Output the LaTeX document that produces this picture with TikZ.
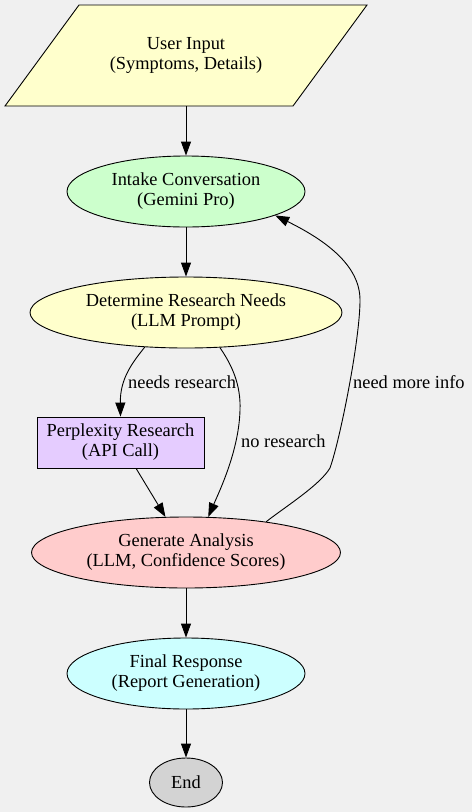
\documentclass[tikz,border=0pt]{standalone}
\usepackage{fontspec}
\setmainfont{Liberation Serif}
\usetikzlibrary{shapes.geometric,arrows.meta}
\definecolor{bgc}{HTML}{F0F0F0}
\definecolor{ylw}{HTML}{FFFFCC}
\definecolor{grn}{HTML}{CCFFCC}
\definecolor{lav}{HTML}{E5CCFF}
\definecolor{pnk}{HTML}{FFCCCC}
\definecolor{cyn}{HTML}{CCFFFF}
\definecolor{gry}{HTML}{D3D3D3}
\begin{document}
\begin{tikzpicture}[x=1pt,y=-1pt,
  every node/.style={font=\fontsize{18.4}{20}\selectfont, align=center, inner sep=0pt},
  ell/.style={ellipse, draw, line width=0.9pt},
  boxstyle/.style={rectangle, draw, line width=0.9pt},
  conn/.style={line width=0.9pt, -{Triangle[length=14pt,width=10pt]}},
  lbl/.style={anchor=west}]
\fill[bgc] (0,0) rectangle (472,812);
\useasboundingbox (0,0) rectangle (472,812);
% input parallelogram
\filldraw[fill=ylw, line width=0.9pt] (79,5) -- (367,5) -- (293,106) -- (5,106) -- cycle;
\node[minimum width=288pt, minimum height=101pt] (inp) at (186,55.5) {User Input\\(Symptoms, Details)};
\node[ell, fill=grn, minimum width=238pt, minimum height=71pt] (intake) at (186,191.5) {Intake Conversation\\(Gemini Pro)};
\node[ell, fill=ylw, minimum width=312pt, minimum height=71pt] (det) at (186,312.5) {Determine Research Needs\\(LLM Prompt)};
\node[boxstyle, fill=lav, minimum width=167pt, minimum height=51pt] (perp) at (120.5,442.5) {Perplexity Research\\(API Call)};
\node[ell, fill=pnk, minimum width=309pt, minimum height=71pt] (gen) at (186,552.5) {Generate Analysis\\(LLM, Confidence Scores)};
\node[ell, fill=cyn, minimum width=238pt, minimum height=71pt] (final) at (186,673.5) {Final Response\\(Report Generation)};
\node[ell, fill=gry, minimum width=73pt, minimum height=49pt] (endn) at (186,782.5) {End};
% connectors
\draw[conn] (inp.south) -- (intake.north);
\draw[conn] (intake.south) -- (det.north);
\draw[conn] (det.220) .. controls (133,362) and (120,378) .. (perp.north);
\draw[conn] (det.314.5) .. controls (232,365) and (241,385) .. (240,410) .. controls (239,450) and (220,490) .. (gen.58.6);
\draw[conn] (perp.301.3) -- (gen.120.2);
\draw[conn] (gen.21.6) .. controls (285,507) and (320,485) .. (330,468) .. controls (340,440) and (360,340) .. (360,300) .. controls (360,265) and (325,240) .. (intake.345);
\draw[conn] (gen.south) -- (final.north);
\draw[conn] (final.south) -- (endn.north);
% labels
\node[lbl] (l1) at (128,382) {needs research};
\node[lbl] (l2) at (241,441) {no research};
\node[lbl] (l3) at (353,382) {need more info};
\end{tikzpicture}
\end{document}
